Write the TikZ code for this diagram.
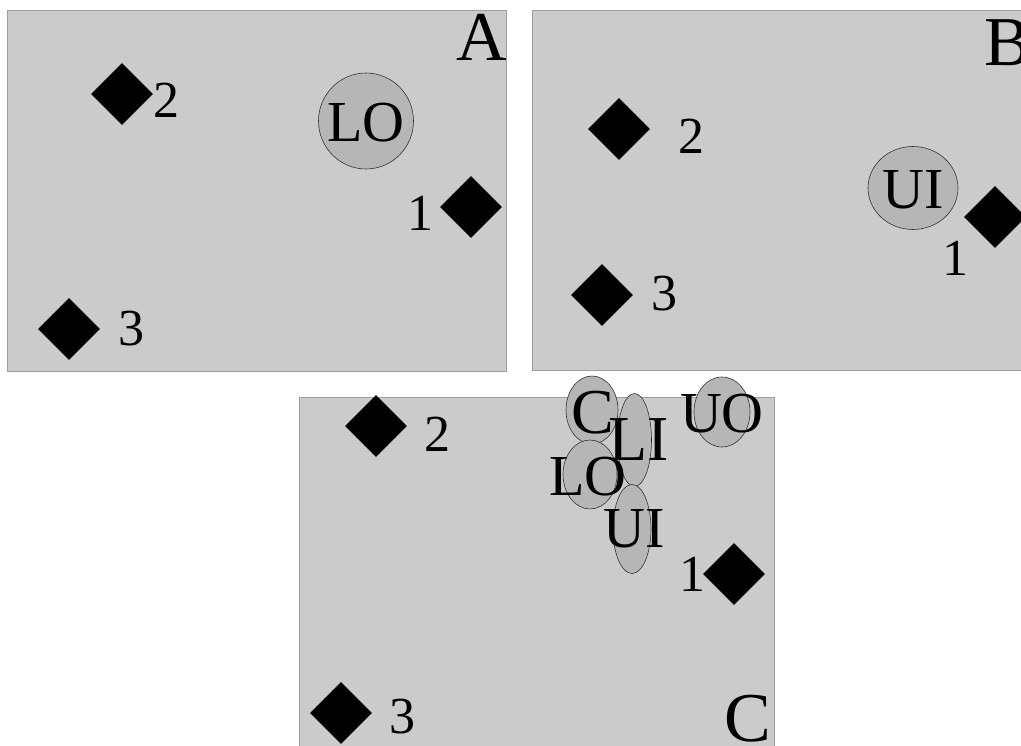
\documentclass[tikz,border=0pt]{standalone}
\usepackage{fontspec}
\setmainfont{Liberation Serif}
\usetikzlibrary{shapes.geometric}
\definecolor{panel}{RGB}{203,203,203}
\definecolor{blob}{RGB}{182,182,182}
\begin{document}
\begin{tikzpicture}[x=1pt,y=-1pt,
  panelbox/.style={fill=panel, draw=gray!75, line width=0.8pt},
  gem/.style={diamond, fill=black, inner sep=0pt, minimum width=62pt, minimum height=62pt},
  num/.style={font=\fontsize{52}{52}\selectfont, inner sep=0pt},
  big/.style={font=\fontsize{70}{70}\selectfont, inner sep=0pt},
  blobshape/.style={ellipse, fill=blob, draw=black!80, line width=0.6pt, inner sep=0pt},
  blobtext/.style={font=\fontsize{58}{58}\selectfont, inner sep=0pt},
  bigblobtext/.style={font=\fontsize{64}{64}\selectfont, inner sep=0pt}]
\clip (0,0) rectangle (1021,746);
\fill[white] (0,0) rectangle (1021,746);
% Panel A
\path[panelbox] (7,10) rectangle (506,371);
\node[big] (labA) at (482,37) {A};
\node[gem] (a2) at (122,94) {};
\node[num] (a2t) at (166,100) {2};
\node[gem] (a1) at (471,207) {};
\node[num] (a1t) at (420,213) {1};
\node[gem] (a3) at (69,329) {};
\node[num] (a3t) at (131,329) {3};
\node[blobshape, minimum width=95pt, minimum height=96pt] (aLO) at (366,121) {};
\node[blobtext] (aLOt) at (366,123) {LO};
% Panel B
\path[panelbox] (532,10) rectangle (1030,370);
\node[big] (labB) at (1008,43) {B};
\node[gem] (b2) at (619,129) {};
\node[num] (b2t) at (691,136) {2};
\node[gem] (b1) at (995,217) {};
\node[num] (b1t) at (955,258) {1};
\node[gem] (b3) at (602,295) {};
\node[num] (b3t) at (664,294) {3};
\node[blobshape, minimum width=90pt, minimum height=83pt] (bUI) at (913,188) {};
\node[blobtext] (bUIt) at (913,190) {UI};
% Panel C
\path[panelbox] (299,397) rectangle (774,760);
\node[big] (labC) at (748,719) {C};
\node[gem] (c2) at (376,426) {};
\node[num] (c2t) at (437,434) {2};
\node[gem] (c1) at (734,574) {};
\node[num] (c1t) at (692,574) {1};
\node[gem] (c3) at (341,713) {};
\node[num] (c3t) at (402,717) {3};
\node[blobshape, minimum width=52pt, minimum height=68pt] (cC) at (592,410) {};
\node[blobshape, minimum width=34pt, minimum height=93pt] (cLI) at (634.5,440) {};
\node[blobshape, minimum width=54pt, minimum height=69pt] (cLO) at (590,474.5) {};
\node[blobshape, minimum width=38pt, minimum height=89pt] (cUI) at (632,529) {};
\node[blobshape, minimum width=56pt, minimum height=70pt] (cUO) at (722,412) {};
\node[bigblobtext] (cCt) at (593,413) {C};
\node[bigblobtext] (cLIt) at (639,440) {LI};
\node[blobtext] (cLOt) at (588,477) {LO};
\node[blobtext] (cUIt) at (634,529) {UI};
\node[blobtext] (cUOt) at (722,414) {UO};
\end{tikzpicture}
\end{document}
